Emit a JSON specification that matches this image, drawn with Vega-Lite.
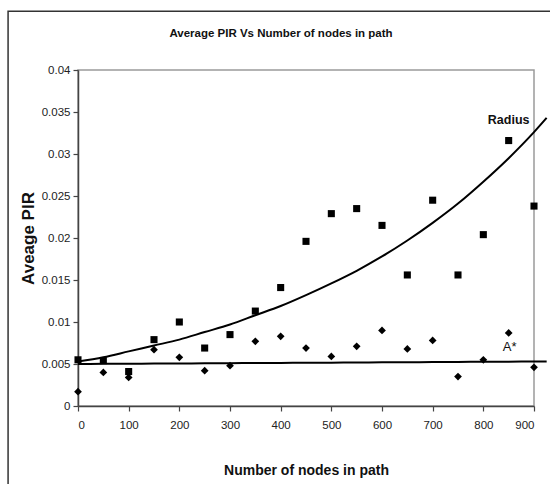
{
  "$schema": "https://vega.github.io/schema/vega-lite/v6.json",
  "width": 456,
  "height": 336,
  "autosize": {"type": "none"},
  "padding": {"left": 78, "top": 70, "right": 16, "bottom": 78},
  "background": "white",
  "config": {
    "font": "Liberation Sans, Arial, sans-serif",
    "view": {"stroke": "#9a9a9a", "strokeWidth": 1.5}
  },
  "title": {
    "text": "Average PIR Vs Number of nodes in path",
    "anchor": "middle",
    "dx": -25,
    "offset": -29,
    "fontSize": 11.5,
    "fontWeight": "bold",
    "color": "#111",
    "font": "Liberation Sans, Arial, sans-serif"
  },
  "datasets": {
    "points": [
      {"nodes": 0, "radius": 0.0055, "astar": 0.0017},
      {"nodes": 50, "radius": 0.0054, "astar": 0.0040},
      {"nodes": 100, "radius": 0.0041, "astar": 0.0034},
      {"nodes": 150, "radius": 0.0079, "astar": 0.0067},
      {"nodes": 200, "radius": 0.0100, "astar": 0.0058},
      {"nodes": 250, "radius": 0.0069, "astar": 0.0042},
      {"nodes": 300, "radius": 0.0085, "astar": 0.0048},
      {"nodes": 350, "radius": 0.0113, "astar": 0.0077},
      {"nodes": 400, "radius": 0.0141, "astar": 0.0083},
      {"nodes": 450, "radius": 0.0196, "astar": 0.0069},
      {"nodes": 500, "radius": 0.0229, "astar": 0.0059},
      {"nodes": 550, "radius": 0.0235, "astar": 0.0071},
      {"nodes": 600, "radius": 0.0215, "astar": 0.0090},
      {"nodes": 650, "radius": 0.0156, "astar": 0.0068},
      {"nodes": 700, "radius": 0.0245, "astar": 0.0078},
      {"nodes": 750, "radius": 0.0156, "astar": 0.0035},
      {"nodes": 800, "radius": 0.0204, "astar": 0.0055},
      {"nodes": 850, "radius": 0.0316, "astar": 0.0087},
      {"nodes": 900, "radius": 0.0238, "astar": 0.0046}
    ],
    "trend": [
      {"nodes": 0, "radiusFit": 0.0053, "astarFit": 0.00500},
      {"nodes": 50, "radiusFit": 0.0058, "astarFit": 0.00502},
      {"nodes": 100, "radiusFit": 0.0065, "astarFit": 0.00503},
      {"nodes": 150, "radiusFit": 0.0072, "astarFit": 0.00505},
      {"nodes": 200, "radiusFit": 0.0079, "astarFit": 0.00506},
      {"nodes": 250, "radiusFit": 0.0088, "astarFit": 0.00508},
      {"nodes": 300, "radiusFit": 0.0097, "astarFit": 0.00510},
      {"nodes": 350, "radiusFit": 0.0108, "astarFit": 0.00511},
      {"nodes": 400, "radiusFit": 0.0119, "astarFit": 0.00513},
      {"nodes": 450, "radiusFit": 0.0132, "astarFit": 0.00515},
      {"nodes": 500, "radiusFit": 0.0146, "astarFit": 0.00516},
      {"nodes": 550, "radiusFit": 0.0161, "astarFit": 0.00518},
      {"nodes": 600, "radiusFit": 0.0178, "astarFit": 0.00520},
      {"nodes": 650, "radiusFit": 0.0197, "astarFit": 0.00521},
      {"nodes": 700, "radiusFit": 0.0218, "astarFit": 0.00523},
      {"nodes": 750, "radiusFit": 0.0241, "astarFit": 0.00525},
      {"nodes": 800, "radiusFit": 0.0267, "astarFit": 0.00526},
      {"nodes": 850, "radiusFit": 0.0295, "astarFit": 0.00528},
      {"nodes": 900, "radiusFit": 0.0326, "astarFit": 0.00530},
      {"nodes": 925, "radiusFit": 0.0343, "astarFit": 0.00531}
    ]
  },
  "layer": [
    {
      "data": {"values": [{}]},
      "mark": {"type": "rect", "fill": null, "stroke": "#333", "strokeWidth": 1.5, "clip": false},
      "encoding": {
        "x": {"datum": -138, "type": "quantitative", "scale": {"domain": [0, 900], "nice": false, "zero": false}},
        "x2": {"datum": 1100},
        "y": {"datum": 0.047, "type": "quantitative", "scale": {"domain": [0, 0.04], "nice": false}},
        "y2": {"datum": -0.02}
      }
    },
    {
      "data": {"name": "trend"},
      "mark": {"type": "line", "color": "#000", "strokeWidth": 2, "clip": false, "interpolate": "monotone"},
      "encoding": {
        "x": {"field": "nodes", "type": "quantitative"},
        "y": {"field": "astarFit", "type": "quantitative"}
      }
    },
    {
      "data": {"name": "trend"},
      "mark": {"type": "line", "color": "#000", "strokeWidth": 2, "clip": false, "interpolate": "monotone"},
      "encoding": {
        "x": {"field": "nodes", "type": "quantitative"},
        "y": {"field": "radiusFit", "type": "quantitative"}
      }
    },
    {
      "data": {"name": "points"},
      "mark": {"type": "point", "shape": "square", "filled": true, "color": "#000", "size": 50, "opacity": 1, "clip": false},
      "encoding": {
        "x": {
          "field": "nodes", "type": "quantitative",
          "scale": {"domain": [0, 900], "nice": false, "zero": false},
          "axis": {
            "title": "Number of nodes in path",
            "values": [0, 100, 200, 300, 400, 500, 600, 700, 800, 900],
            "grid": false,
            "domainColor": "#444", "domainWidth": 1.5,
            "tickColor": "#444", "tickSize": 5, "tickWidth": 1.2,
            "labelFontSize": 11.5, "labelColor": "#222", "labelPadding": 8,
            "titleFontSize": 14, "titleFontWeight": "bold", "titleColor": "#111",
            "titleY": 57, "titleBaseline": "top"
          }
        },
        "y": {
          "field": "radius", "type": "quantitative",
          "scale": {"domain": [0, 0.04], "nice": false},
          "axis": {
            "title": "Aveage PIR",
            "values": [0, 0.005, 0.01, 0.015, 0.02, 0.025, 0.03, 0.035, 0.04],
            "format": "~g",
            "grid": false,
            "domainColor": "#444", "domainWidth": 1.5,
            "tickColor": "#444", "tickSize": 5, "tickWidth": 1.2,
            "labelFontSize": 11.5, "labelColor": "#222", "labelPadding": 3,
            "titleFontSize": 17, "titleFontWeight": "bold", "titleColor": "#111",
            "titleX": -41, "titleY": 168
          }
        }
      }
    },
    {
      "data": {"name": "points"},
      "mark": {"type": "point", "shape": "diamond", "filled": true, "color": "#000", "size": 60, "opacity": 1, "clip": false},
      "encoding": {
        "x": {"field": "nodes", "type": "quantitative"},
        "y": {"field": "astar", "type": "quantitative"}
      }
    },
    {
      "data": {"values": [{}]},
      "mark": {"type": "text", "text": "Radius", "fontSize": 12.5, "fontWeight": "bold", "color": "#111", "align": "center", "baseline": "middle"},
      "encoding": {
        "x": {"datum": 850, "type": "quantitative"},
        "y": {"datum": 0.034, "type": "quantitative"}
      }
    },
    {
      "data": {"values": [{}]},
      "mark": {"type": "text", "text": "A*", "fontSize": 13, "color": "#111", "align": "center", "baseline": "middle"},
      "encoding": {
        "x": {"datum": 852, "type": "quantitative"},
        "y": {"datum": 0.007, "type": "quantitative"}
      }
    }
  ]
}
